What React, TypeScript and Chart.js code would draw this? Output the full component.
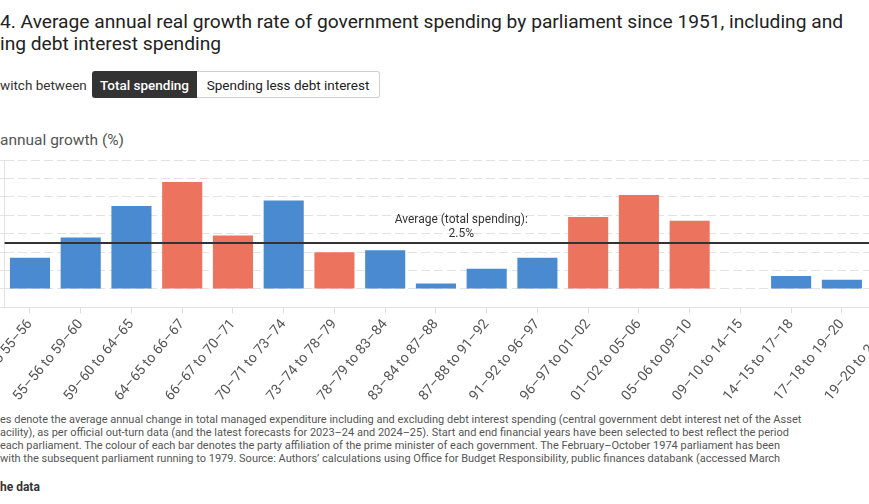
import { useEffect, useRef } from "react";
import { Chart, registerables } from "chart.js";

Chart.register(...registerables);

// Parliament periods (financial years)
const parliaments = [
  "51–52 to 55–56",
  "55–56 to 59–60",
  "59–60 to 64–65",
  "64–65 to 66–67",
  "66–67 to 70–71",
  "70–71 to 73–74",
  "73–74 to 78–79",
  "78–79 to 83–84",
  "83–84 to 87–88",
  "87–88 to 91–92",
  "91–92 to 96–97",
  "96–97 to 01–02",
  "01–02 to 05–06",
  "05–06 to 09–10",
  "09–10 to 14–15",
  "14–15 to 17–18",
  "17–18 to 19–20",
  "19–20 to 24–25",
];

// Average annual real growth in total spending (%)
const growthPct = [1.7, 2.8, 4.5, 5.8, 2.9, 4.8, 2.0, 2.1, 0.3, 1.1, 1.7, 3.9, 5.1, 3.7, 0.0, 0.7, 0.5, 2.6];

// Party of the prime minister for each parliament
const primeMinisterParty = [
  "con", "con", "con", "lab", "lab", "con", "lab", "con", "con",
  "con", "con", "lab", "lab", "lab", "con", "con", "con", "con",
];

const averageGrowth = 2.5;
const yMin = -1;
const yMax = 7;

const partyColour: Record<string, string> = { con: "#4a8ad0", lab: "#ec735e" };

const notesLines = [
  "es denote the average annual change in total managed expenditure including and excluding debt interest spending (central government debt interest net of the Asset",
  "acility), as per official out-turn data (and the latest forecasts for 2023–24 and 2024–25). Start and end financial years have been selected to best reflect the period",
  "each parliament. The colour of each bar denotes the party affiliation of the prime minister of each government. The February–October 1974 parliament has been",
  "with the subsequent parliament running to 1979. Source: Authors’ calculations using Office for Budget Responsibility, public finances databank (accessed March",
];

const averageLine = {
  id: "averageLine",
  afterDatasetsDraw(chart: any) {
    const { ctx, chartArea, scales } = chart;
    const y = scales.y.getPixelForValue(averageGrowth);
    ctx.save();
    ctx.strokeStyle = "#333";
    ctx.lineWidth = 2;
    ctx.beginPath();
    ctx.moveTo(chartArea.left, y);
    ctx.lineTo(chartArea.right, y);
    ctx.stroke();
    const cx = (chartArea.left + chartArea.right) / 2;
    ctx.fillStyle = "#333";
    ctx.font = "12px Roboto";
    ctx.textAlign = "center";
    ctx.textBaseline = "alphabetic";
    ctx.fillText("Average (total spending):", cx, y - 20);
    ctx.fillText(`${averageGrowth}%`, cx, y - 6);
    ctx.restore();
  },
};

function GrowthChart() {
  const canvasRef = useRef<HTMLCanvasElement | null>(null);

  useEffect(() => {
    if (!canvasRef.current) return;
    const chart = new Chart(canvasRef.current, {
      type: "bar",
      data: {
        labels: parliaments,
        datasets: [
          {
            data: growthPct,
            backgroundColor: primeMinisterParty.map((p) => partyColour[p]),
            borderWidth: 0,
            barPercentage: 0.79,
            categoryPercentage: 1,
          },
        ],
      },
      options: {
        animation: false,
        responsive: false,
        maintainAspectRatio: false,
        layout: { padding: 0 },
        plugins: {
          legend: { display: false },
          tooltip: { enabled: false },
          title: { display: false },
        },
        scales: {
          x: {
            offset: true,
            grid: {
              offset: false,
              drawOnChartArea: false,
              drawTicks: true,
              tickLength: 6,
              color: "#dddddd",
            },
            border: { display: true, color: "#e3e3e3" },
            ticks: {
              autoSkip: false,
              minRotation: 50,
              maxRotation: 50,
              padding: 3,
              color: "#555",
              font: { family: "Roboto", size: 14 },
            },
            afterFit(scale: any) {
              scale.height = 100.6;
              scale.paddingLeft = 0;
              scale.paddingRight = 0;
            },
          },
          y: {
            min: yMin,
            max: yMax,
            ticks: { display: false, stepSize: 1 },
            grid: {
              color: "#e2e2e2",
              tickLength: 6,
              tickColor: "#e2e2e2",
            },
            border: { display: true, color: "#e3e3e3", dash: [9, 4] },
            afterFit(scale: any) {
              scale.width = 24.6;
              scale.paddingTop = 0;
              scale.paddingBottom = 0;
            },
          },
        },
      },
      plugins: [averageLine],
    });
    return () => chart.destroy();
  }, []);

  return (
    <canvas
      ref={canvasRef}
      width={938}
      height={248}
      style={{ position: "absolute", left: -20, top: 160, width: 938, height: 248 }}
    />
  );
}

export default function App() {
  return (
    <div
      style={{
        position: "fixed",
        left: 0,
        top: 0,
        width: 869,
        height: 504,
        overflow: "hidden",
        background: "#fff",
        fontFamily: "Roboto, sans-serif",
      }}
    >
      <div
        style={{
          position: "absolute",
          left: 0,
          top: 10.5,
          fontSize: 19.2,
          lineHeight: "22px",
          color: "#222",
          whiteSpace: "nowrap",
        }}
      >
        <div>4. Average annual real growth rate of government spending by parliament since 1951, including and</div>
        <div>ing debt interest spending</div>
      </div>

      <div
        style={{
          position: "absolute",
          left: 0,
          top: 71,
          height: 27,
          display: "flex",
          alignItems: "stretch",
          fontSize: 13.5,
          whiteSpace: "nowrap",
        }}
      >
        <span style={{ display: "flex", alignItems: "center", color: "#333", width: 92 }}>witch between</span>
        <span
          style={{
            display: "flex",
            alignItems: "center",
            justifyContent: "center",
            width: 105,
            background: "#333",
            color: "#fff",
            fontWeight: 500,
            borderRadius: "3px 0 0 3px",
          }}
        >
          Total spending
        </span>
        <span
          style={{
            display: "flex",
            alignItems: "center",
            justifyContent: "center",
            width: 182,
            border: "1px solid #cfcfcf",
            borderLeft: "none",
            color: "#222",
            borderRadius: "0 3px 3px 0",
          }}
        >
          Spending less debt interest
        </span>
      </div>

      <div
        style={{
          position: "absolute",
          left: 0,
          top: 130.7,
          fontSize: 15.5,
          lineHeight: "18px",
          color: "#555",
          whiteSpace: "nowrap",
        }}
      >
        annual growth (%)
      </div>

      <GrowthChart />

      <div
        style={{
          position: "absolute",
          left: 0,
          top: 412.7,
          fontSize: 11,
          lineHeight: "13px",
          color: "#555",
          whiteSpace: "nowrap",
        }}
      >
        {notesLines.map((line, i) => (
          <div key={i}>{line}</div>
        ))}
      </div>

      <div
        style={{
          position: "absolute",
          left: 0,
          top: 480,
          fontSize: 12,
          lineHeight: "14px",
          fontWeight: 700,
          color: "#333",
          whiteSpace: "nowrap",
        }}
      >
        he data
      </div>
    </div>
  );
}
